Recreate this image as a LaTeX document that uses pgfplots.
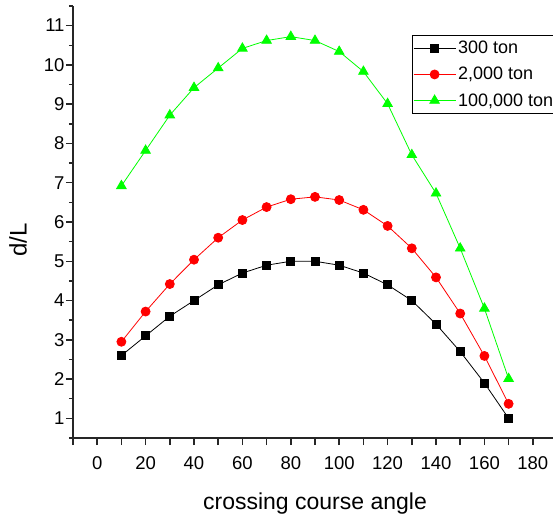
\documentclass[border=0pt]{standalone}
\usepackage{fontspec}
\setmainfont{Liberation Sans}
\usepackage{pgfplots}
\pgfplotsset{compat=1.18}

\begin{document}
\begin{tikzpicture}
\begin{axis}[
scale only axis,
width=484pt,
height=432pt,
xmin=-10, xmax=190,
ymin=0.5, ymax=11.5,
axis x line=bottom,
axis y line=left,
axis line style={-, line width=1.5pt, black!85},
tick align=outside,
xtick={-10,0,10,...,190},
xticklabels={,0,,20,,40,,60,,80,,100,,120,,140,,160,,180,},
ytick={1,2,...,11},
minor ytick={0.5,1.5,...,11.5},
major tick length=7pt,
minor tick length=4pt,
x tick style={line width=1.5pt, black!85},
y tick style={line width=1.5pt, black!85},
tick label style={font=\fontsize{18.5}{21}\selectfont},
x tick label style={yshift=-8pt},
y tick label style={xshift=2pt},
/pgf/number format/assume math mode=true,
xlabel={crossing course angle},
ylabel={d/L},
xlabel style={font=\fontsize{23}{26}\selectfont, at={(axis description cs:0.5,-0.152)}, anchor=center},
ylabel style={font=\fontsize{24}{27}\selectfont, at={(axis description cs:-0.1136,0.458)}, anchor=center},
legend style={at={(rel axis cs:0.700,0.933)}, anchor=north west,
  font=\fontsize{18}{20}\selectfont, draw=black, line width=0.8pt,
  inner xsep=1pt, inner ysep=4pt, row sep=8pt},
legend cell align=left,
legend image code/.code={\draw[mark repeat=2,mark phase=2] plot coordinates {(0pt,0pt) (21pt,0pt) (42pt,0pt)};},
clip=false,
]
\coordinate (sw) at (rel axis cs:0,0);

\addplot[black, line width=0.8pt, mark=square*, mark size=4pt, mark options={solid}] coordinates {
(10,2.6) (20,3.1) (30,3.6) (40,4.0) (50,4.4) (60,4.7) (70,4.9) (80,5.0) (90,5.0)
(100,4.9) (110,4.7) (120,4.4) (130,4.0) (140,3.4) (150,2.7) (160,1.9) (170,1.0)
};
\addlegendentry{300 ton}

\addplot[red, line width=0.8pt, mark=*, mark size=4.5pt, mark options={solid, draw=red, fill=red}] coordinates {
(10,2.95) (20,3.72) (30,4.42) (40,5.04) (50,5.6) (60,6.05) (70,6.38) (80,6.58) (90,6.64)
(100,6.56) (110,6.31) (120,5.9) (130,5.33) (140,4.59) (150,3.67) (160,2.59) (170,1.37)
};
\addlegendentry{2,000 ton}

\addplot[green, line width=0.8pt, mark=triangle*, mark size=5.5pt, mark options={solid, draw=green, fill=green}] coordinates {
(10,6.92) (20,7.82) (30,8.72) (40,9.42) (50,9.92) (60,10.42) (70,10.62) (80,10.72) (90,10.62)
(100,10.34) (110,9.83) (120,9.01) (130,7.71) (140,6.73) (150,5.33) (160,3.8) (170,2.01)
};
\addlegendentry{100,000 ton}
\end{axis}
\pgfresetboundingbox
\path[use as bounding box] ([shift={(-73pt,-84pt)}]sw) rectangle ([shift={(480pt,438pt)}]sw);
\end{tikzpicture}
\end{document}
